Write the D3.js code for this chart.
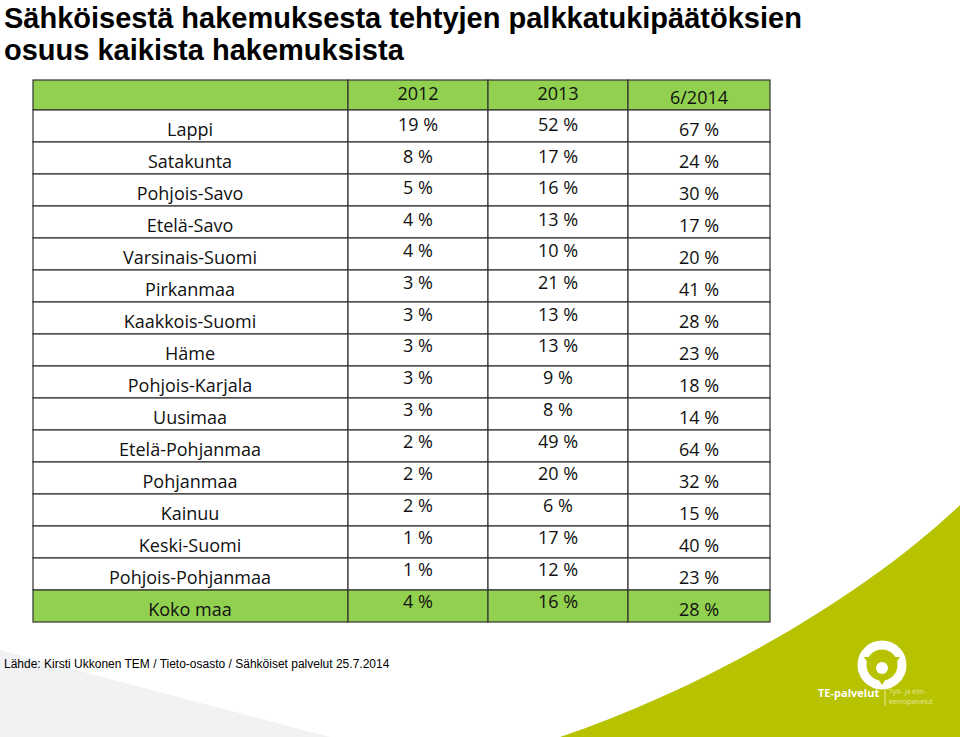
<!DOCTYPE html>
<html><head><meta charset="utf-8">
<script src="https://cdn.jsdelivr.net/npm/d3@7"></script>
<style>body{margin:0;background:#fff}</style>
</head><body>
<svg id="c" width="960" height="737"></svg>
<script>
const years = ["2012", "2013", "6/2014"];
const regions = ["Lappi","Satakunta","Pohjois-Savo","Etelä-Savo","Varsinais-Suomi","Pirkanmaa","Kaakkois-Suomi","Häme","Pohjois-Karjala","Uusimaa","Etelä-Pohjanmaa","Pohjanmaa","Kainuu","Keski-Suomi","Pohjois-Pohjanmaa","Koko maa"];
const v2012 = [19,8,5,4,4,3,3,3,3,3,2,2,2,1,1,4];
const v2013 = [52,17,16,13,10,21,13,13,9,8,49,20,6,17,12,16];
const v2014 = [67,24,30,17,20,41,28,23,18,14,64,32,15,40,23,28];

const svg = d3.select("#c");
const green = "#92d050";

// background swoosh
svg.append("path")
  .attr("d", "M960,505 C860,600 700,690 560,737 L960,737 Z")
  .attr("fill", "#b7c200");
svg.append("path")
  .attr("d", "M0,650 L330,737 L0,737 Z")
  .attr("fill", "#f1f2f4");

// title
const title = svg.append("text").attr("font-family", "Liberation Sans, Arial, sans-serif")
  .attr("font-weight", "bold").attr("font-size", 29).attr("fill", "#000");
title.append("tspan").attr("x", 4).attr("y", 28).text("Sähköisestä hakemuksesta tehtyjen palkkatukipäätöksien");
title.append("tspan").attr("x", 4).attr("y", 60).text("osuus kaikista hakemuksista");

// table geometry
const cols = [33, 348, 488, 628, 770];
const rows = ["head", ...regions];
const rowTop = i => i === 0 ? 80 : 110 + (i - 1) * 32;
const rowH = i => i === 0 ? 30 : 32;

const g = svg.append("g").attr("font-family", "Open Sans, Lato, sans-serif").attr("font-size", 18).attr("fill", "#111");

rows.forEach((r, i) => {
  const fill = (i === 0 || i === rows.length - 1) ? green : "#fff";
  for (let c = 0; c < 4; c++) {
    g.append("rect").attr("x", cols[c]).attr("y", rowTop(i))
      .attr("width", cols[c + 1] - cols[c]).attr("height", rowH(i))
      .attr("fill", fill).attr("stroke", "#333").attr("stroke-width", 1.2);
  }
});

const cx = c => (cols[c] + cols[c + 1]) / 2;
years.forEach((yr, k) => {
  g.append("text").attr("x", cx(k + 1)).attr("y", k === 2 ? 104 : 100)
    .attr("text-anchor", "middle").text(yr);
});
regions.forEach((r, j) => {
  const t = rowTop(j + 1);
  const mid = t + 21 - Math.min(j, 8) * 0.4;
  g.append("text").attr("x", 190).attr("y", t + 26).attr("text-anchor", "middle").text(r);
  g.append("text").attr("x", cx(1)).attr("y", mid).attr("text-anchor", "middle").text(v2012[j] + " %");
  g.append("text").attr("x", cx(2)).attr("y", mid).attr("text-anchor", "middle").text(v2013[j] + " %");
  g.append("text").attr("x", cx(3)).attr("y", t + 26).attr("text-anchor", "middle").text(v2014[j] + " %");
});

// footer
svg.append("text").attr("x", 4).attr("y", 668).attr("font-family", "Liberation Sans, Arial, sans-serif")
  .attr("font-size", 12).text("Lähde: Kirsti Ukkonen TEM / Tieto-osasto / Sähköiset palvelut 25.7.2014");

// logo
const logo = svg.append("g").attr("transform", "translate(882,665)");
logo.append("circle").attr("r", 20).attr("fill", "none").attr("stroke", "#fff").attr("stroke-width", 9);
logo.append("path").attr("d", "M-18,-8 L18,-8 L0,20 Z").attr("fill", "#b7c200");
logo.append("circle").attr("r", 6).attr("cy", 3).attr("fill", "#fff");
svg.append("text").attr("x", 818).attr("y", 697).attr("font-family", "Open Sans, sans-serif")
  .attr("font-size", 11).attr("font-weight", "bold").attr("fill", "#fff").text("TE-palvelut");
svg.append("line").attr("x1", 885).attr("x2", 885).attr("y1", 688).attr("y2", 706).attr("stroke", "#e4e8a0");
svg.append("text").attr("x", 889).attr("y", 694).attr("font-family", "Open Sans, sans-serif")
  .attr("font-size", 7).attr("fill", "#e4e8a0").text("Työ- ja elin-");
svg.append("text").attr("x", 889).attr("y", 704).attr("font-family", "Open Sans, sans-serif")
  .attr("font-size", 7).attr("fill", "#e4e8a0").text("keinopalvelut");
</script>
</body></html>
